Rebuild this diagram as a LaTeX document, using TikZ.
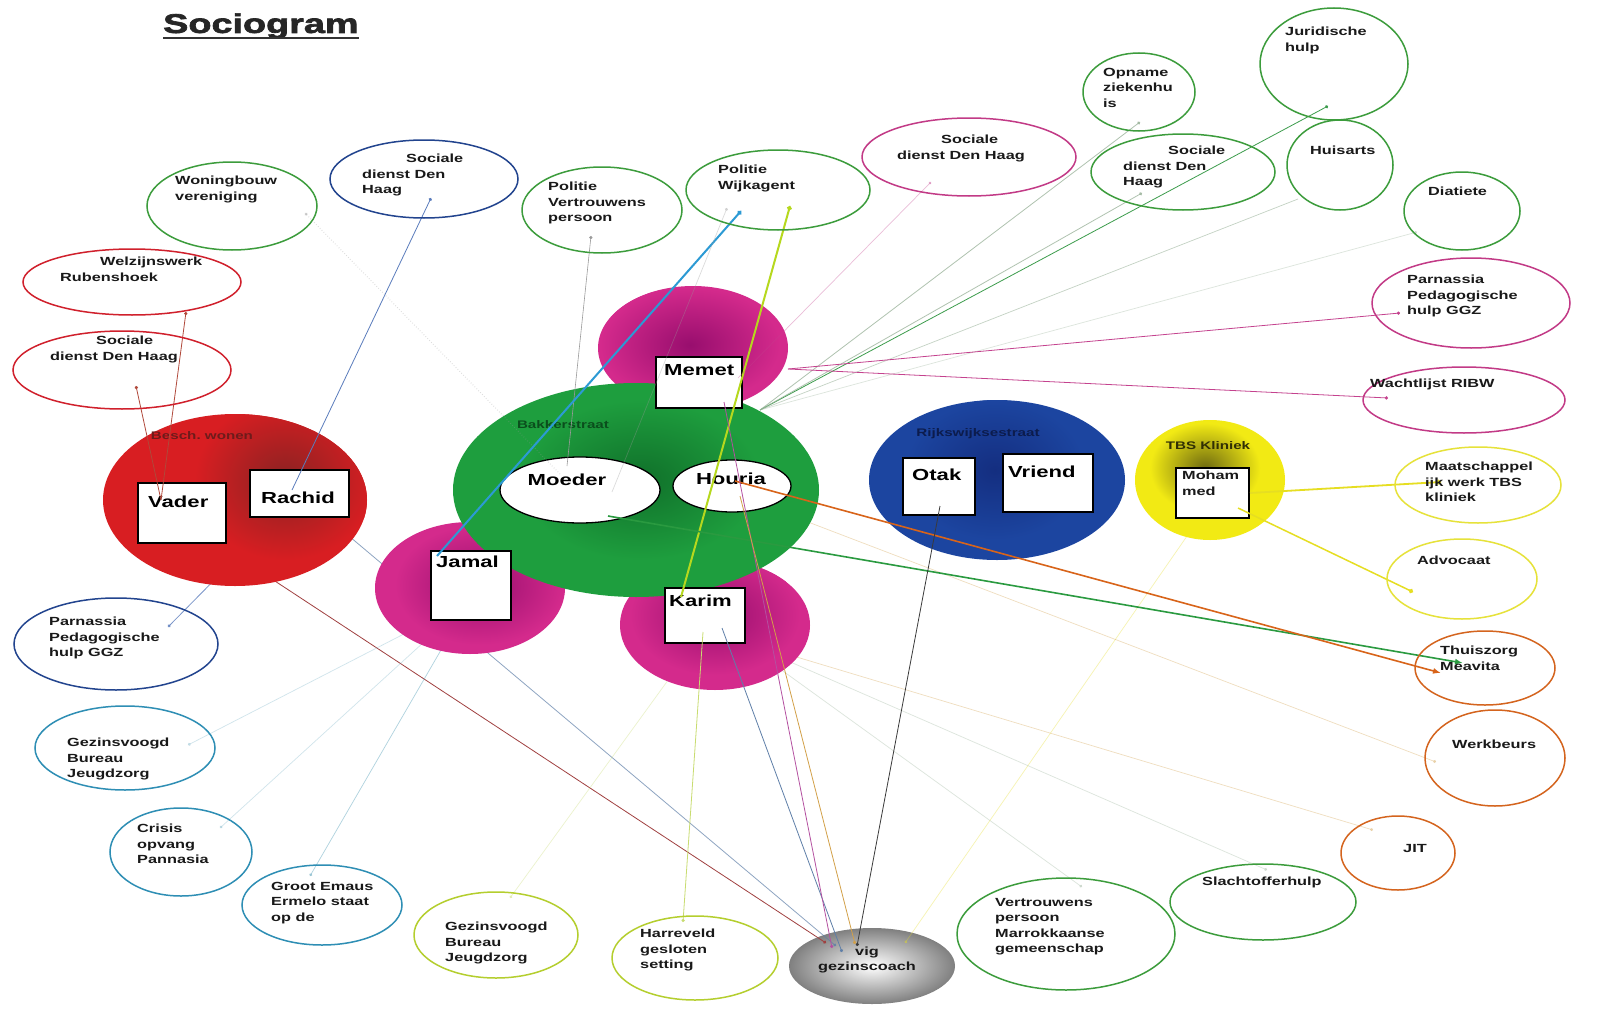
\documentclass[tikz,border=0pt]{standalone}
\usepackage{fontspec}
\setmainfont{Liberation Sans}[FakeStretch=1.38]
\newfontfamily\titlefont{Liberation Sans}[FakeStretch=1.4,FakeBold=2.5]
\usetikzlibrary{shapes.geometric,arrows.meta}
\definecolor{cRed}{HTML}{D81E22}\definecolor{cRedD}{HTML}{8A2222}
\definecolor{cGreen}{HTML}{1E9E3E}\definecolor{cGreenD}{HTML}{10702A}
\definecolor{cPink}{HTML}{D42A8C}\definecolor{cPinkD}{HTML}{980E6E}
\definecolor{cBlue}{HTML}{1C45A0}\definecolor{cBlueD}{HTML}{142E80}
\definecolor{cYel}{HTML}{F2EA14}\definecolor{cYelD}{HTML}{6E6A10}
\definecolor{rGreen}{HTML}{3C9C3C}\definecolor{rBlue}{HTML}{22448E}
\definecolor{rRed}{HTML}{D0202C}\definecolor{rPink}{HTML}{C23A86}
\definecolor{rYel}{HTML}{E6E23A}\definecolor{rOrange}{HTML}{D4641E}
\definecolor{rTeal}{HTML}{2E8EB4}\definecolor{rLime}{HTML}{B4CE2E}
\definecolor{lBrRed}{HTML}{B0483A}\definecolor{lBlue}{HTML}{5A7CBC}
\definecolor{lGray}{HTML}{9A9A9A}\definecolor{lCyan}{HTML}{2C9AD4}
\definecolor{lLime}{HTML}{B6D81E}\definecolor{lPink}{HTML}{C4428E}
\definecolor{lGreenG}{HTML}{9CB49C}\definecolor{lGreen}{HTML}{3C9C4C}
\definecolor{lYel}{HTML}{E6DE22}\definecolor{lTGreen}{HTML}{2A9A40}
\definecolor{lOrange}{HTML}{D8641A}\definecolor{lDark}{HTML}{3A3A3A}
\definecolor{lBlueGray}{HTML}{5F7FA8}\definecolor{lPurple}{HTML}{B450A0}
\definecolor{lTan}{HTML}{D2A048}\definecolor{lDRed}{HTML}{A04040}
\definecolor{lLimeL}{HTML}{C8DC70}\definecolor{lTeal}{HTML}{7AB4C8}
\begin{document}
\begin{tikzpicture}[x=1pt,y=-1pt,
  ring/.style={ellipse, draw, line width=1.5pt, inner sep=0pt},
  lab/.style={font=\bfseries\fontsize{11.8}{15.5}\selectfont, align=left, anchor=north west, inner sep=0pt, text=black!90},
  blab/.style={font=\bfseries\fontsize{16}{18}\selectfont, anchor=west, inner sep=0pt},
  glab/.style={font=\bfseries\fontsize{11}{13}\selectfont, inner sep=0pt},
  pbox/.style={rectangle, draw=black, line width=1.3pt, fill=white, inner sep=0pt},
  disc/.style={ellipse, inner sep=0pt},
  conn/.style={line width=0.8pt, -{Circle[length=3.2pt]}},
  faintc/.style={line width=0.7pt, opacity=0.35, -{Circle[length=3pt]}},
  thickc/.style={line width=2pt, -{Circle[length=4.5pt]}},
  arrc/.style={line width=1.6pt, -{Latex[length=8pt,width=6pt]}}
]
\useasboundingbox (0,0) rectangle (1612,1033);
\fill[white] (0,0) rectangle (1612,1033);
% ---------- vig disc (below its connectors) ----------
\node[disc, inner color=white, outer color=black!50, minimum width=166pt, minimum height=76pt] (vig) at (872,966) {};
% ---------- coordinates ----------
\coordinate (vaderA) at (161,500); \coordinate (vaderC) at (182,520);
\coordinate (rachidA) at (292,490); \coordinate (rachidC) at (299,494);
\coordinate (moederA) at (560,474); \coordinate (moederB) at (567,466);
\coordinate (moederC) at (612,492); \coordinate (moederD) at (608,516);
\coordinate (memetA) at (738,378); \coordinate (memetB) at (760,410);
\coordinate (memetC) at (788,369); \coordinate (memetD) at (724,402);
\coordinate (jamalA) at (437,556); \coordinate (jamalC) at (470,600);
\coordinate (karimA) at (681,597); \coordinate (karimB) at (722,628);
\coordinate (karimC) at (703,632); \coordinate (karimD) at (740,640);
\coordinate (houriaA) at (735,481); \coordinate (houriaB) at (740,496);
\coordinate (otakA) at (940,506);
\coordinate (mohamA) at (1250,493); \coordinate (mohamB) at (1238,508); \coordinate (mohamC) at (1212,500);
\coordinate (dWelz) at (186,312); \coordinate (dSdRed) at (136,386);
\coordinate (dSdBlue) at (431,198); \coordinate (dWonb) at (305,213);
\coordinate (dParnL) at (168,627); \coordinate (dPolV) at (591,236);
\coordinate (dPolWa) at (741,211); \coordinate (dPolWb) at (790,206);
\coordinate (dPolWc) at (727,208); \coordinate (dSdPink) at (931,182);
\coordinate (dOpname) at (1140,122); \coordinate (dJur) at (1328,106);
\coordinate (dSdGreen) at (1142,193); \coordinate (dHuis) at (1298,199);
\coordinate (dDiat) at (1417,232); \coordinate (dParnR) at (1400,313);
\coordinate (dWacht) at (1388,398); \coordinate (dMaat) at (1441,482);
\coordinate (dAdvo) at (1413,592); \coordinate (dThuisG) at (1463,663);
\coordinate (dThuisO) at (1441,673); \coordinate (dWerk) at (1436,762);
\coordinate (dJit) at (1373,830); \coordinate (dSlacht) at (1267,870);
\coordinate (dVertm) at (1082,887); \coordinate (dHarr) at (683,922);
\coordinate (dGezY) at (510,898); \coordinate (dGroot) at (310,876);
\coordinate (dCrisis) at (220,828); \coordinate (dGezT) at (188,745);
\coordinate (vigA) at (857,946); \coordinate (vigB) at (842,952);
\coordinate (vigC) at (832,948); \coordinate (vigD) at (855,944);
\coordinate (vigE) at (826,943); \coordinate (vigF) at (836,946);
\coordinate (vigG) at (905,943);
% ---------- lines under the discs ----------
\draw[conn, draw=lDRed] (vaderC) -- (vigE);
\draw[conn, draw=lBlueGray, opacity=.7] (rachidC) -- (vigF);
\draw[conn, draw=lBlue, opacity=.8] (rachidC) -- (dParnL);
\draw[faintc, draw=lYel] (mohamC) -- (vigG);
\draw[faintc, draw=lTan] (houriaB) -- (dWerk);
\draw[faintc, draw=lTan] (karimD) -- (dJit);
\draw[faintc, draw=lGreenG] (karimD) -- (dSlacht);
\draw[faintc, draw=lGreenG] (karimD) -- (dVertm);
\draw[faintc, draw=lTeal] (jamalC) -- (dGezT);
\draw[faintc, draw=lTeal] (jamalC) -- (dCrisis);
\draw[faintc, draw=lTeal, opacity=.6] (jamalC) -- (dGroot);
\draw[faintc, draw=lLimeL] (karimC) -- (dGezY);
% ---------- discs ----------
\node[disc, fill=cPink, minimum width=190pt, minimum height=124pt] (pMemet) at (693,348) {};
\node[disc, fill=cPink, minimum width=190pt, minimum height=132pt] (pJamal) at (470,588) {};
\node[disc, fill=cPink, minimum width=190pt, minimum height=130pt] (pKarim) at (715,625) {};
\begin{scope}\clip (693,348) ellipse [x radius=95, y radius=62];
\shade[inner color=cPinkD, outer color=cPink] (690,345) ellipse [x radius=90, y radius=58];\end{scope}
\begin{scope}\clip (470,588) ellipse [x radius=95, y radius=66];
\shade[inner color=cPinkD, outer color=cPink] (480,585) ellipse [x radius=85, y radius=60];\end{scope}
\begin{scope}\clip (715,625) ellipse [x radius=95, y radius=65];
\shade[inner color=cPinkD, outer color=cPink] (715,615) ellipse [x radius=85, y radius=60];\end{scope}
\node[disc, fill=cRed, minimum width=264pt, minimum height=172pt] (besch) at (235,500) {};
\begin{scope}\clip (235,500) ellipse [x radius=132, y radius=86];
\shade[inner color=cRedD, outer color=cRed] (285,480) ellipse [x radius=90, y radius=80];\end{scope}
\node[disc, fill=cGreen, minimum width=366pt, minimum height=214pt] (bakker) at (636,490) {};
\begin{scope}\clip (636,490) ellipse [x radius=183, y radius=107];
\shade[inner color=cGreenD, outer color=cGreen] (640,480) ellipse [x radius=120, y radius=80];\end{scope}
\node[disc, fill=cBlue, minimum width=256pt, minimum height=160pt] (rijks) at (997,480) {};
\begin{scope}\clip (997,480) ellipse [x radius=128, y radius=80];
\shade[inner color=cBlueD, outer color=cBlue] (995,470) ellipse [x radius=90, y radius=70];\end{scope}
\node[disc, fill=cYel, minimum width=150pt, minimum height=120pt] (tbs) at (1210,480) {};
\begin{scope}\clip (1210,480) ellipse [x radius=75, y radius=60];
\shade[inner color=cYelD, outer color=cYel] (1205,468) ellipse [x radius=55, y radius=45];\end{scope}
% ---------- group labels ----------
\node[glab, text=cRedD!80!black] (lbesch) at (202,436) {Besch.\ wonen};
\node[glab, text=cGreenD!70!black] (lbakker) at (563,425) {Bakkerstraat};
\node[glab, text=cBlueD!60!black] (lrijks) at (978,434) {Rijkswijksestraat};
\node[glab, text=black!80!cYel] (ltbs) at (1208,446) {TBS Kliniek};
% ---------- persons ----------
\node[pbox, minimum width=88pt, minimum height=60pt] (vader) at (182,513) {};
\node[pbox, minimum width=99pt, minimum height=47pt] (rachid) at (299.5,493.5) {};
\node[pbox, minimum width=86pt, minimum height=51pt] (memet) at (699,382.5) {};
\node[pbox, minimum width=80pt, minimum height=69pt] (jamal) at (471,585.5) {};
\node[pbox, minimum width=80pt, minimum height=55pt] (karim) at (705,615.5) {};
\node[pbox, minimum width=72pt, minimum height=57pt] (otak) at (939,486.5) {};
\node[pbox, minimum width=90pt, minimum height=58pt] (vriend) at (1048,483) {};
\node[pbox, minimum width=73pt, minimum height=50pt] (moham) at (1212.5,493) {};
\node[ellipse, draw=black, line width=1.3pt, fill=white, inner sep=0pt, minimum width=160pt, minimum height=66pt] (moeder) at (580,490) {};
\node[ellipse, draw=black, line width=1.3pt, fill=white, inner sep=0pt, minimum width=118pt, minimum height=52pt] (houria) at (732,486) {};
\node[blab] (tvader) at (148,502) {Vader};
\node[blab] (trachid) at (261,498) {Rachid};
\node[blab] (tmemet) at (664,370) {Memet};
\node[blab] (tjamal) at (436,562) {Jamal};
\node[blab] (tkarim) at (669,601) {Karim};
\node[blab] (totak) at (912,475) {Otak};
\node[blab] (tvriend) at (1008,472) {Vriend};
\node[blab, anchor=center] (tmoeder) at (567,480) {Moeder};
\node[blab, anchor=center] (thouria) at (731,479) {Houria};
\node[lab] (tmoham) at (1182,471) {Moham\\med};
% ---------- connectors ----------
\draw[conn, draw=lBrRed] (vaderA) -- (dWelz);
\draw[conn, draw=lBrRed] (vaderA) -- (dSdRed);
\draw[conn, draw=lBlue] (rachidA) -- (dSdBlue);
\draw[faintc, draw=lGray, dotted, line width=1pt] (moederA) -- (dWonb);
\draw[conn, draw=lGray, line width=.6pt] (moederB) -- (dPolV);
\draw[thickc, draw=lCyan] (jamalA) -- (dPolWa);
\draw[thickc, draw=lLime] (karimA) -- (dPolWb);
\draw[faintc, draw=lGray] (moederC) -- (dPolWc);
\draw[faintc, draw=lPink] (memetA) -- (dSdPink);
\draw[conn, draw=lGreenG, opacity=.8] (memetB) -- (dOpname);
\draw[conn, draw=lGreen] (memetB) -- (dJur);
\draw[conn, draw=lGreenG, opacity=.8] (memetB) -- (dSdGreen);
\draw[faintc, draw=lGreenG, opacity=.6, -] (memetB) -- (dHuis);
\draw[faintc, draw=lGreenG] (memetB) -- (dDiat);
\draw[conn, draw=lPink] (memetC) -- (dParnR);
\draw[conn, draw=lPink] (memetC) -- (dWacht);
\draw[thickc, draw=lYel, line width=1.8pt] (mohamA) -- (dMaat);
\draw[thickc, draw=lYel, line width=1.5pt] (mohamB) -- (dAdvo);
\draw[arrc, draw=lTGreen, fill=lTGreen] (moederD) -- (dThuisG);
\draw[arrc, draw=lOrange, fill=lOrange] (houriaA) -- (dThuisO);
\draw[conn, draw=lDark] (otakA) -- (vigA);
\draw[conn, draw=lBlueGray] (karimB) -- (vigB);
\draw[conn, draw=lPurple] (memetD) -- (vigC);
\draw[conn, draw=lTan] (houriaB) -- (vigD);
\draw[conn, draw=lLimeL] (karimC) -- (dHarr);
% ---------- title ----------
\node[font=\titlefont\bfseries\fontsize{27}{30}\selectfont, anchor=west, inner sep=0pt, text=black!85] (title) at (163,26) {Sociogram};
\draw[line width=1.6pt, black!80] ([yshift=-5pt]title.base west) -- ([yshift=-5pt]title.base east);
% ---------- rings ----------
\node[ring, draw=rGreen, minimum width=170pt, minimum height=88pt] (wonb) at (232,206) {};
\node[lab] (twonb) at (175,176) {Woningbouw\\vereniging};
\node[ring, draw=rBlue, minimum width=188pt, minimum height=78pt] (sdblue) at (424,179) {};
\node[lab] (tsdblue) at (362,154) {\hspace*{44pt}Sociale\\dienst Den\\Haag};
\node[ring, draw=rRed, minimum width=218pt, minimum height=66pt] (welz) at (132,282) {};
\node[lab] (twelz) at (60,257) {\hspace*{40pt}Welzijnswerk\\Rubenshoek};
\node[ring, draw=rRed, minimum width=218pt, minimum height=78pt] (sdred) at (122,370) {};
\node[lab] (tsdred) at (50,336) {\hspace*{46pt}Sociale\\dienst Den Haag};
\node[ring, draw=rGreen, minimum width=160pt, minimum height=86pt] (polv) at (602,210) {};
\node[lab] (tpolv) at (548,182) {Politie\\Vertrouwens\\persoon};
\node[ring, draw=rGreen, minimum width=184pt, minimum height=80pt] (polw) at (778,190) {};
\node[lab] (tpolw) at (718,165) {Politie\\Wijkagent};
\node[ring, draw=rPink, minimum width=214pt, minimum height=78pt] (sdpink) at (969,157) {};
\node[lab] (tsdpink) at (897,135) {\hspace*{44pt}Sociale\\dienst Den Haag};
\node[ring, draw=rGreen, minimum width=112pt, minimum height=78pt] (opname) at (1139,92) {};
\node[lab] (topname) at (1103,68) {Opname\\ziekenhu\\is};
\node[ring, draw=rGreen, minimum width=148pt, minimum height=112pt] (jur) at (1334,64) {};
\node[lab] (tjur) at (1285,27) {Juridische\\hulp};
\node[ring, draw=rGreen, minimum width=184pt, minimum height=76pt] (sdgreen) at (1183,172) {};
\node[lab] (tsdgreen) at (1123,146) {\hspace*{45pt}Sociale\\dienst Den\\Haag};
\node[ring, draw=rGreen, minimum width=106pt, minimum height=90pt] (huis) at (1340,165) {};
\node[lab] (thuis) at (1310,146) {Huisarts};
\node[ring, draw=rGreen, minimum width=116pt, minimum height=78pt] (diat) at (1462,211) {};
\node[lab] (tdiat) at (1428,187) {Diatiete};
\node[ring, draw=rPink, minimum width=198pt, minimum height=90pt] (parnR) at (1471,303) {};
\node[lab] (tparnR) at (1407,275) {Parnassia\\Pedagogische\\hulp GGZ};
\node[ring, draw=rPink, minimum width=202pt, minimum height=66pt] (wacht) at (1464,400) {};
\node[lab] (twacht) at (1370,379) {Wachtlijst RIBW};
\node[ring, draw=rYel, minimum width=166pt, minimum height=76pt] (maat) at (1478,485) {};
\node[lab] (tmaat) at (1425,462) {Maatschappel\\ijk werk TBS\\kliniek};
\node[ring, draw=rYel, minimum width=150pt, minimum height=80pt] (advo) at (1462,579) {};
\node[lab] (tadvo) at (1417,556) {Advocaat};
\node[ring, draw=rOrange, minimum width=140pt, minimum height=74pt] (thuis) at (1485,668) {};
\node[lab] (tthuis) at (1440,646) {Thuiszorg\\Meavita};
\node[ring, draw=rOrange, minimum width=140pt, minimum height=96pt] (werk) at (1495,758) {};
\node[lab] (twerk) at (1452,740) {Werkbeurs};
\node[ring, draw=rOrange, minimum width=114pt, minimum height=74pt] (jit) at (1398,853) {};
\node[lab] (tjit) at (1403,844) {JIT};
\node[ring, draw=rGreen, minimum width=186pt, minimum height=76pt] (slacht) at (1263,902) {};
\node[lab] (tslacht) at (1202,877) {Slachtofferhulp};
\node[ring, draw=rGreen, minimum width=218pt, minimum height=112pt] (vertm) at (1066,934) {};
\node[lab] (tvertm) at (995,898) {Vertrouwens\\persoon\\Marrokkaanse\\gemeenschap};
\node[ring, draw=rLime, minimum width=166pt, minimum height=84pt] (harr) at (695,958) {};
\node[lab] (tharr) at (640,929) {Harreveld\\gesloten\\setting};
\node[ring, draw=rLime, minimum width=164pt, minimum height=86pt] (gezY) at (496,935) {};
\node[lab] (tgezY) at (445,922) {Gezinsvoogd\\Bureau\\Jeugdzorg};
\node[ring, draw=rTeal, minimum width=160pt, minimum height=80pt] (groot) at (322,905) {};
\node[lab] (tgroot) at (271,882) {Groot Emaus\\Ermelo staat\\op de};
\node[ring, draw=rTeal, minimum width=142pt, minimum height=88pt] (crisis) at (181,852) {};
\node[lab] (tcrisis) at (137,824) {Crisis\\opvang\\Pannasia};
\node[ring, draw=rTeal, minimum width=180pt, minimum height=84pt] (gezT) at (125,748) {};
\node[lab] (tgezT) at (67,738) {Gezinsvoogd\\Bureau\\Jeugdzorg};
\node[ring, draw=rBlue, minimum width=204pt, minimum height=92pt] (parnL) at (116,644) {};
\node[lab] (tparnL) at (49,617) {Parnassia\\Pedagogische\\hulp GGZ};
% ---------- vig text ----------
\node[lab, anchor=center, align=center] (tvig) at (867,960) {vig\\gezinscoach};
\end{tikzpicture}
\end{document}
